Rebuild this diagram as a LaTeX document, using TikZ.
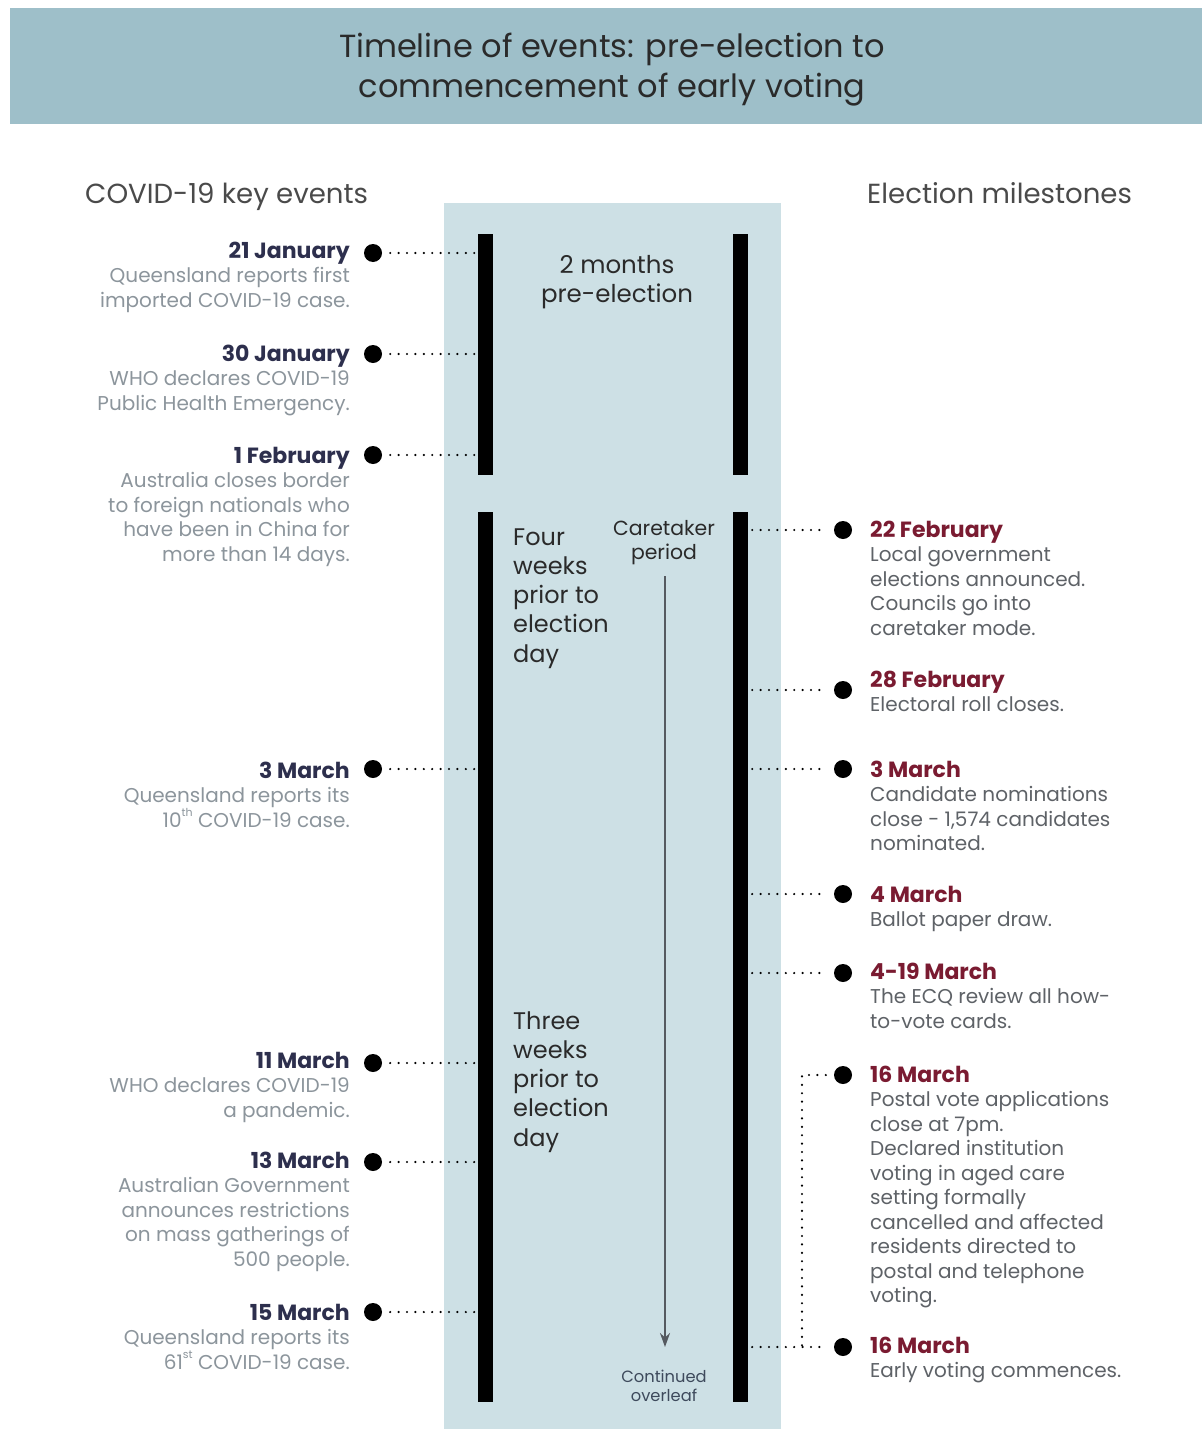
\documentclass[tikz,border=0pt]{standalone}
\usepackage{fontspec}
\setmainfont{Poppins}
\usetikzlibrary{arrows.meta}
\definecolor{band}{HTML}{9EBFC9}
\definecolor{panel}{HTML}{CDE0E5}
\definecolor{navy}{HTML}{2D2F4D}
\definecolor{lgray}{HTML}{8C959C}
\definecolor{maroon}{HTML}{7A1B31}
\definecolor{rgray}{HTML}{5E6267}
\definecolor{arrowgray}{HTML}{555A60}
\definecolor{ink}{HTML}{2A2A2A}
\definecolor{contc}{HTML}{3E4A5C}

\newcommand\lcol[1]{\vtop{\halign{\hfil##\cr#1\crcr}}}
\newcommand\rcol[1]{\vtop{\halign{##\hfil\cr#1\crcr}}}
\newcommand\ccol[1]{\vtop{\halign{\hfil##\hfil\cr#1\crcr}}}
\newcommand\ldate[1]{{\fontsize{22}{24.5}\selectfont\bfseries\color{navy}#1}}
\newcommand\rdate[1]{{\fontsize{22}{24.5}\selectfont\bfseries\color{maroon}#1}}
\newcommand\supx[1]{\raisebox{0.55em}{\fontsize{11}{12}\selectfont #1}}

\tikzset{
  bar/.style={fill=black, inner sep=0pt, minimum width=15pt, draw=none},
  evdot/.style={circle, fill=black, inner sep=0pt, minimum size=18pt},
  dotline/.style={line width=2.4pt, line cap=round, dash pattern=on 0pt off 8.4pt},
  ltext/.style={anchor=base east, inner sep=0pt, font=\fontsize{20}{24.5}\selectfont, text=lgray},
  rtext/.style={anchor=base west, inner sep=0pt, font=\fontsize{20}{24.5}\selectfont, text=rgray},
  midtext/.style={anchor=base west, inner sep=0pt, font=\fontsize{24}{29.3}\selectfont, text=ink},
  header/.style={anchor=base west, inner sep=0pt, font=\fontsize{27.6}{30}\selectfont, text=ink!85},
}

\begin{document}
\begin{tikzpicture}[x=1pt,y=-1pt]
\useasboundingbox (0,0) rectangle (1202,1429);
\fill[white] (0,0) rectangle (1202,1429);
% title band
\fill[band] (10,8) rectangle (1202,124);
\node[anchor=base, inner sep=0pt, font=\fontsize{32}{40}\selectfont, text=ink] (title) at (612,57)
  {\ccol{Timeline of events: pre-election to\cr commencement of early voting}};
% headers
\node[header] (hleft) at (85,203) {COVID-19 key events};
\node[header] (hright) at (867,203) {Election milestones};
% central panel
\fill[panel] (444,203) rectangle (781,1429);
% bars
\node[bar, minimum height=241pt] (bL1) at (485.5,354.5) {};
\node[bar, minimum height=890pt] (bL2) at (485.5,957) {};
\node[bar, minimum height=241pt] (bR1) at (740.5,354.5) {};
\node[bar, minimum height=890pt] (bR2) at (740.5,957) {};
% middle texts
\node[anchor=base, inner sep=0pt, font=\fontsize{24.5}{29.5}\selectfont, text=ink] (twom) at (617,273)
  {\ccol{2 months\cr pre-election}};
\node[midtext] (four) at (513,545) {\rcol{Four\cr weeks\cr prior to\cr election\cr day}};
\node[midtext] (three) at (513,1029) {\rcol{Three\cr weeks\cr prior to\cr election\cr day}};
\node[anchor=base, inner sep=0pt, font=\fontsize{20.4}{24.5}\selectfont, text=ink] (care) at (664,535)
  {\ccol{Caretaker\cr period}};
\coordinate (arrS) at (665,576);
\coordinate (arrE) at (665,1347);
\draw[arrowgray, line width=2pt, -{Stealth[length=14pt,width=10pt]}] (arrS) -- (arrE);
\node[anchor=base, inner sep=0pt, font=\fontsize{16.3}{19}\selectfont, text=contc] (cont) at (664,1382)
  {\ccol{Continued\cr overleaf}};

% left events
\node[evdot] (dl1) at (373,253) {};
\node[evdot] (dl2) at (373,354) {};
\node[evdot] (dl3) at (373,455) {};
\node[evdot] (dl4) at (373,769) {};
\node[evdot] (dl5) at (373,1063) {};
\node[evdot] (dl6) at (373,1162) {};
\node[evdot] (dl7) at (373,1312) {};
\foreach \d/\b in {dl1/bL1,dl2/bL1,dl3/bL1,dl4/bL2,dl5/bL2,dl6/bL2,dl7/bL2}
  \draw[dotline, shorten <=8pt] (\d.east) -- (\d -| \b.west);

\node[ltext] (tl1) at (350,258) {\lcol{\ldate{21 January}\cr Queensland reports first\cr imported COVID-19 case.}};
\node[ltext] (tl2) at (350,361) {\lcol{\ldate{30 January}\cr WHO declares COVID-19\cr Public Health Emergency.}};
\node[ltext] (tl3) at (350,463) {\lcol{\ldate{1 February}\cr Australia closes border\cr to foreign nationals who\cr have been in China for\cr more than 14 days.}};
\node[ltext] (tl4) at (350,778) {\lcol{\ldate{3 March}\cr Queensland reports its\cr 10\supx{th} COVID-19 case.}};
\node[ltext] (tl5) at (350,1068) {\lcol{\ldate{11 March}\cr WHO declares COVID-19\cr a pandemic.}};
\node[ltext] (tl6) at (350,1168) {\lcol{\ldate{13 March}\cr Australian Government\cr announces restrictions\cr on mass gatherings of\cr 500 people.}};
\node[ltext] (tl7) at (350,1320) {\lcol{\ldate{15 March}\cr Queensland reports its\cr 61\supx{st} COVID-19 case.}};

% right events
\node[evdot] (dr1) at (843,530) {};
\node[evdot] (dr2) at (843,690) {};
\node[evdot] (dr3) at (843,769) {};
\node[evdot] (dr4) at (843,894) {};
\node[evdot] (dr5) at (843,973) {};
\node[evdot] (dr6) at (843,1075) {};
\node[evdot] (dr7) at (843,1347) {};
\foreach \d in {dr1,dr2,dr3,dr4,dr5,dr7}
  \draw[dotline, shorten >=8pt] (\d -| bR2.east) ++(4,0) -- (\d.west);
\coordinate (join) at (802,1347);
\draw[dotline, shorten <=8pt] (dr6.west) -- (dr6 -| join) -- (join);

\node[rtext] (tr1) at (870,537) {\rcol{\rdate{22 February}\cr Local government\cr elections announced.\cr Councils go into\cr caretaker mode.}};
\node[rtext] (tr2) at (870,687) {\rcol{\rdate{28 February}\cr Electoral roll closes.}};
\node[rtext] (tr3) at (870,777) {\rcol{\rdate{3 March}\cr Candidate nominations\cr close - 1,574 candidates\cr nominated.}};
\node[rtext] (tr4) at (870,902) {\rcol{\rdate{4 March}\cr Ballot paper draw.}};
\node[rtext] (tr5) at (870,979) {\rcol{\rdate{4-19 March}\cr The ECQ review all how-\cr to-vote cards.}};
\node[rtext] (tr6) at (870,1082) {\rcol{\rdate{16 March}\cr Postal vote applications\cr close at 7pm.\cr Declared institution\cr voting in aged care\cr setting formally\cr cancelled and affected\cr residents directed to\cr postal and telephone\cr voting.}};
\node[rtext] (tr7) at (870,1353) {\rcol{\rdate{16 March}\cr Early voting commences.}};
\end{tikzpicture}
\end{document}
